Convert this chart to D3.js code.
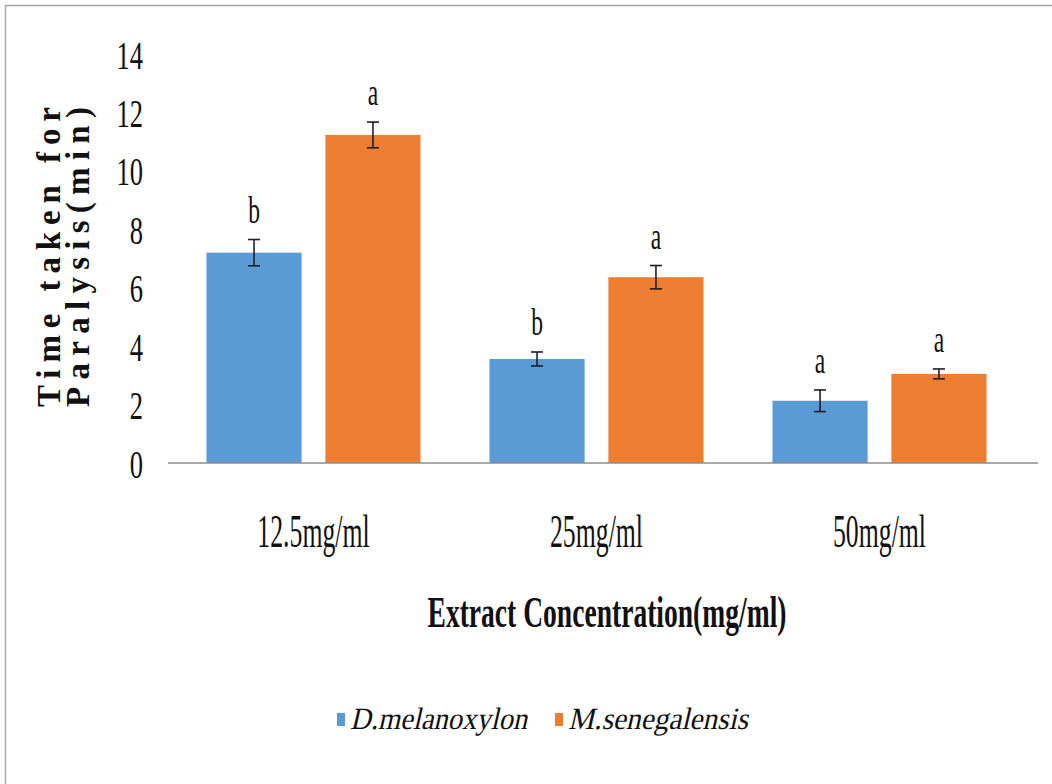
<!DOCTYPE html>
<html>
<head>
<meta charset="utf-8">
<script src="https://cdn.jsdelivr.net/npm/d3@7"></script>
<style>
	body { margin: 0; background: #fff; }
	text { font-family: "Liberation Serif", "Times New Roman", "DejaVu Serif", serif; fill: #111; }
</style>
</head>
<body>
<div id="chart"></div>
<script>
// values
const concentrations = ['12.5mg/ml', '25mg/ml', '50mg/ml']
const species = ['D.melanoxylon', 'M.senegalensis']
const melanoxylonMeans = [7.2, 3.56, 2.13]
const melanoxylonErrors = [0.45, 0.24, 0.37]
const senegalensisMeans = [11.23, 6.36, 3.05]
const senegalensisErrors = [0.44, 0.40, 0.17]
const melanoxylonLetters = ['b', 'b', 'a']
const senegalensisLetters = ['a', 'a', 'a']
const yTicks = [0, 2, 4, 6, 8, 10, 12, 14]

const colors = { 'D.melanoxylon': '#5b9bd5', 'M.senegalensis': '#ed7d31' }

const width = 1052, height = 784
const serif = '"Liberation Serif", "Times New Roman", "DejaVu Serif", serif'

// flatten into rows for drawing
let rows = []
concentrations.forEach((c, i) => {
	rows.push({ conc: c, sp: species[0], mean: melanoxylonMeans[i], err: melanoxylonErrors[i], letter: melanoxylonLetters[i] })
	rows.push({ conc: c, sp: species[1], mean: senegalensisMeans[i], err: senegalensisErrors[i], letter: senegalensisLetters[i] })
})

const svg = d3.select('#chart').append('svg')
	.attr('width', width)
	.attr('height', height)

// frame of the original chart area
svg.append('rect')
	.attr('x', 5.5).attr('y', 5.5)
	.attr('width', 1200).attr('height', 1000)
	.attr('fill', 'none')
	.attr('stroke', '#a8a8a8')
	.attr('stroke-width', 1.5)

const x0 = d3.scaleBand()
	.domain(concentrations)
	.range([172, 1021])

const x1 = d3.scaleBand()
	.domain(species)
	.range([0, x0.bandwidth()])
	.paddingInner(0.2)
	.paddingOuter(0.29)

const y = d3.scaleLinear()
	.domain([0, 14])
	.range([463, 54])

/*----------- y axis (labels only) -----------*/
const yAxis = svg.append('g')
	.attr('transform', 'translate(143,0)')
	.call(d3.axisLeft(y).tickValues(yTicks).tickSize(0).tickPadding(0))
yAxis.select('.domain').remove()
yAxis.selectAll('text')
	.attr('x', 0)
	.attr('dy', '0.36em')
	.style('font-size', '39px')
	.style('font-family', serif)
	.attr('fill', '#222')
	.attr('transform', 'scale(0.68,1)')

/*----------- x axis (labels only) -----------*/
const xAxis = svg.append('g')
	.attr('transform', 'translate(0,463)')
	.call(d3.axisBottom(x0).tickSize(0))
xAxis.select('.domain').remove()
xAxis.selectAll('text')
	.attr('y', 84)
	.attr('dy', null)
	.style('font-size', '46px')
	.style('font-family', serif)
	.attr('fill', '#222')
	.attr('transform', 'scale(0.56,1)')

/*----------- bars -----------*/
const groups = svg.append('g').selectAll('g')
	.data(concentrations)
	.join('g')
	.attr('transform', d => `translate(${x0(d)},0)`)

groups.selectAll('rect')
	.data(c => rows.filter(r => r.conc === c))
	.join('rect')
	.attr('x', d => x1(d.sp))
	.attr('width', x1.bandwidth())
	.attr('y', d => y(d.mean))
	.attr('height', d => y(0) - y(d.mean))
	.attr('fill', d => colors[d.sp])

// error bars
const capW = 6
const eb = groups.selectAll('g.err')
	.data(c => rows.filter(r => r.conc === c))
	.join('g')
	.attr('class', 'err')
	.attr('stroke', '#1e1e2a')
	.attr('stroke-width', 1.6)
eb.append('line')
	.attr('x1', d => x1(d.sp) + x1.bandwidth() / 2)
	.attr('x2', d => x1(d.sp) + x1.bandwidth() / 2)
	.attr('y1', d => y(d.mean + d.err))
	.attr('y2', d => y(d.mean - d.err))
eb.append('line')
	.attr('x1', d => x1(d.sp) + x1.bandwidth() / 2 - capW)
	.attr('x2', d => x1(d.sp) + x1.bandwidth() / 2 + capW)
	.attr('y1', d => y(d.mean + d.err))
	.attr('y2', d => y(d.mean + d.err))
eb.append('line')
	.attr('x1', d => x1(d.sp) + x1.bandwidth() / 2 - capW)
	.attr('x2', d => x1(d.sp) + x1.bandwidth() / 2 + capW)
	.attr('y1', d => y(d.mean - d.err))
	.attr('y2', d => y(d.mean - d.err))

// significance letters
groups.selectAll('text.letter')
	.data(c => rows.filter(r => r.conc === c))
	.join('text')
	.attr('class', 'letter')
	.attr('text-anchor', 'middle')
	.attr('transform', d => `translate(${x1(d.sp) + x1.bandwidth() / 2},${y(d.mean + d.err) - 17}) scale(0.62,1)`)
	.style('font-size', '38px')
	.text(d => d.letter)

// baseline
svg.append('line')
	.attr('x1', x0.range()[0] - 4)
	.attr('x2', x0.range()[1] + 17)
	.attr('y1', y(0))
	.attr('y2', y(0))
	.attr('stroke', '#8c8c8c')
	.attr('stroke-width', 1.5)

/*----------- axis titles -----------*/
svg.append('text')
	.attr('x', 607)
	.attr('y', 627)
	.attr('text-anchor', 'middle')
	.attr('textLength', 359)
	.attr('lengthAdjust', 'spacingAndGlyphs')
	.style('font-size', '44px')
	.style('font-weight', 'bold')
	.text('Extract Concentration(mg/ml)')

const yTitle = svg.append('g')
	.attr('transform', 'translate(0,257) rotate(-90)')
;['Time taken for', 'Paralysis(min)'].forEach((t, i) => {
	yTitle.append('text')
		.attr('x', 0)
		.attr('y', 60 + i * 29)
		.attr('text-anchor', 'middle')
		.attr('textLength', 300)
		.attr('lengthAdjust', 'spacing')
		.style('font-size', '33px')
		.style('font-weight', 'bold')
		.style('font-family', serif)
		.text(t)
})

/*----------- legend -----------*/
// serif regular slanted by hand, the italic face falls back to a sans
const legendItems = [
	{ sp: species[0], sx: 337, tx: 346, tw: 177 },
	{ sp: species[1], sx: 555, tx: 564, tw: 180 }
]
const legend = svg.append('g')
legend.selectAll('rect')
	.data(legendItems)
	.join('rect')
	.attr('x', d => d.sx)
	.attr('y', 713)
	.attr('width', 8)
	.attr('height', 13)
	.attr('fill', d => colors[d.sp])
legend.selectAll('text')
	.data(legendItems)
	.join('text')
	.attr('transform', d => `translate(${d.tx + 4},729) skewX(-13)`)
	.attr('textLength', d => d.tw)
	.attr('lengthAdjust', 'spacingAndGlyphs')
	.style('font-size', '31px')
	.style('font-family', serif)
	.style('font-weight', 'normal')
	.text(d => d.sp)
</script>
</body>
</html>
